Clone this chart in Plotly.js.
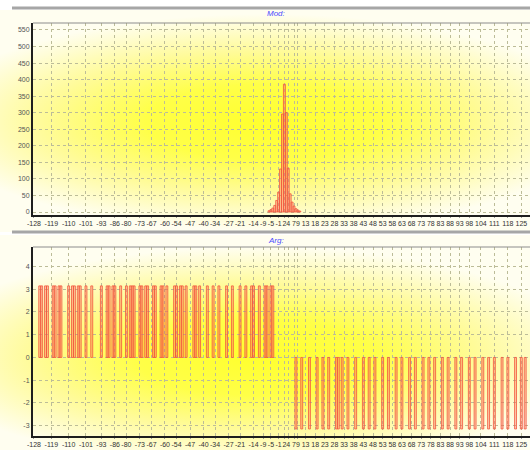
<!DOCTYPE html>
<html>
<head>
<meta charset="utf-8">
<script src="https://cdn.plot.ly/plotly-3.0.1.min.js"></script>
<style>
  html, body { margin: 0; padding: 0; background: #ffffff; overflow: hidden; }
  #chart { width: 530px; height: 450px; }
</style>
</head>
<body>
<div id="chart"></div>
<script>
// ---- data ----
const xTickValues = [-128,-119,-110,-101,-93,-86,-80,-73,-67,-60,-54,-47,-40,-34,-27,-21,-14,-9,-5,-1,2,4,7,9,13,18,23,28,33,38,43,48,53,58,63,68,73,78,83,88,93,98,104,111,118,125];
const modYTicks = [0,50,100,150,200,250,300,350,400,450,500,550];
const argYTicks = [-3,-2,-1,0,1,2,3,4];

// Mod: non-zero bins around the peak
const modBins   = [-6,-5,-4,-3,-2,-1,  0,  1,  2,  3,  4, 5, 6, 7, 8, 9,10];
const modValues = [ 4, 7,12,20,35,60,130,296,386,300,132,55,30,18,10, 6, 3];

// Arg: bins at +pi (left half) and -pi (right half)
const argPosBins = [-125,-124,-122,-121,-118,-117,-115,-114,-110,-108,-107,-105,-104,-101,-98,-93,-90,-89,-87,-86,-83,-80,-78,-77,-76,-73,-72,-70,-69,-66,-65,-62,-61,-59,-55,-54,-52,-51,-49,-45,-44,-42,-38,-35,-32,-28,-25,-21,-18,-15,-14,-11,-8,-7,-5,-4];
const argNegBins = [8,11,15,19,22,25,29,30,32,35,39,43,46,49,53,56,60,63,67,70,74,77,80,84,87,91,94,98,101,105,108,111,115,118,122,125,127];
const argPosValue = 3.1416;
const argNegValue = -3.1416;

// ---- styling ----
const W = 530, H = 450, ML = 33;
const px2x = p => (p - ML) / (W - ML);
const py2y = p => 1 - p / H;

const barStyle = {
  color: 'rgba(250,130,100,0.42)',
  line: { color: '#f2553e', width: 0.8 }
};

function gradSvg(w, h, cx, cy, rx, ry) {
  const svg = "<svg xmlns='http://www.w3.org/2000/svg' width='" + w + "' height='" + h + "' viewBox='0 0 " + w + " " + h + "' preserveAspectRatio='none'>" +
    "<defs><radialGradient id='g' gradientUnits='userSpaceOnUse' cx='0' cy='0' r='1' gradientTransform='translate(" + cx + "," + cy + ") scale(" + rx + "," + ry + ")'>" +
    "<stop offset='0' stop-color='#ffff2e'/>" +
    "<stop offset='0.35' stop-color='#ffff48'/>" +
    "<stop offset='0.65' stop-color='#fffb98'/>" +
    "<stop offset='0.9' stop-color='#fffdd8'/>" +
    "<stop offset='1' stop-color='#fffef0'/>" +
    "</radialGradient></defs><rect x='0' y='0' width='" + w + "' height='" + h + "' fill='url(#g)'/></svg>";
  return 'data:image/svg+xml;charset=utf-8,' + encodeURIComponent(svg);
}

const traces = [
  { type: 'bar', x: modBins, y: modValues, width: 1, marker: barStyle, xaxis: 'x', yaxis: 'y', hoverinfo: 'x+y' },
  { type: 'bar', x: argPosBins, y: argPosBins.map(() => argPosValue), width: 1, marker: barStyle, xaxis: 'x2', yaxis: 'y2', hoverinfo: 'x+y' },
  { type: 'bar', x: argNegBins, y: argNegBins.map(() => argNegValue), width: 1, marker: barStyle, xaxis: 'x2', yaxis: 'y2', hoverinfo: 'x+y' }
];

const tickFont = { family: 'Liberation Sans, Arial, sans-serif', size: 7, color: '#333333' };
const gridColor = '#bcbc98';

function xAxis(anchor) {
  return {
    anchor: anchor, domain: [0, 1], range: [-128.5, 129.5],
    tickmode: 'array', tickvals: xTickValues, ticktext: xTickValues.map(String),
    tickangle: 0, tickfont: tickFont,
    showgrid: true, gridcolor: gridColor, griddash: 'dot', gridwidth: 1,
    showline: true, linecolor: '#1e1e1e', linewidth: 2,
    ticks: 'outside', ticklen: 1, tickcolor: '#9a9a9a',
    zeroline: false, fixedrange: true
  };
}
function yAxis(anchor, domain, range, vals) {
  return {
    anchor: anchor, domain: domain, range: range,
    tickmode: 'array', tickvals: vals, ticktext: vals.map(String),
    tickfont: { family: 'Liberation Sans, Arial, sans-serif', size: 7, color: '#555555' },
    showgrid: true, gridcolor: gridColor, griddash: 'dot', gridwidth: 1,
    showline: true, linecolor: '#1e1e1e', linewidth: 2,
    ticks: '', zeroline: false, fixedrange: true
  };
}

const topDomain = [py2y(215), py2y(23)];
const botDomain = [py2y(436), py2y(247)];

const layout = {
  width: W, height: H,
  margin: { l: ML, r: 0, t: 0, b: 0, pad: 0 },
  paper_bgcolor: '#ffffff', plot_bgcolor: 'rgba(0,0,0,0)',
  showlegend: false, bargap: 0, barmode: 'overlay',
  xaxis: xAxis('y'),
  yaxis: yAxis('x', topDomain, [-9, 571], modYTicks),
  xaxis2: xAxis('y2'),
  yaxis2: yAxis('x2', botDomain, [-3.45, 4.85], argYTicks),
  images: [
    { source: gradSvg(530, 222, 265, 112, 340, 108), xref: 'paper', yref: 'paper',
      x: px2x(0), y: py2y(10), sizex: 530 / (W - ML), sizey: 222 / H,
      xanchor: 'left', yanchor: 'top', sizing: 'stretch', layer: 'below' },
    { source: gradSvg(530, 215, 255, 122, 340, 110), xref: 'paper', yref: 'paper',
      x: px2x(0), y: py2y(235), sizex: 530 / (W - ML), sizey: 215 / H,
      xanchor: 'left', yanchor: 'top', sizing: 'stretch', layer: 'below' }
  ],
  shapes: [
    { type: 'line', xref: 'paper', yref: 'paper', x0: px2x(12), x1: 1, y0: py2y(8), y1: py2y(8), line: { color: '#a6a6a6', width: 3 } },
    { type: 'line', xref: 'paper', yref: 'paper', x0: px2x(12), x1: 1, y0: py2y(232), y1: py2y(232), line: { color: '#a6a6a6', width: 3 } },
    { type: 'line', xref: 'paper', yref: 'paper', x0: 0, x1: 1, y0: topDomain[1], y1: topDomain[1], line: { color: '#8c8c8c', width: 1 } },
    { type: 'line', xref: 'paper', yref: 'paper', x0: 0, x1: 1, y0: botDomain[1], y1: botDomain[1], line: { color: '#8c8c8c', width: 1 } }
  ],
  annotations: [
    { text: '<i>Mod:</i>', xref: 'paper', yref: 'paper', x: px2x(276), y: py2y(14), showarrow: false,
      font: { family: 'Liberation Sans, Arial, sans-serif', size: 8, color: '#4a4aff' }, xanchor: 'center', yanchor: 'middle' },
    { text: '<i>Arg:</i>', xref: 'paper', yref: 'paper', x: px2x(276), y: py2y(240), showarrow: false,
      font: { family: 'Liberation Sans, Arial, sans-serif', size: 8, color: '#4a4aff' }, xanchor: 'center', yanchor: 'middle' }
  ]
};

Plotly.newPlot('chart', traces, layout, { displayModeBar: false, staticPlot: true });
</script>
</body>
</html>
